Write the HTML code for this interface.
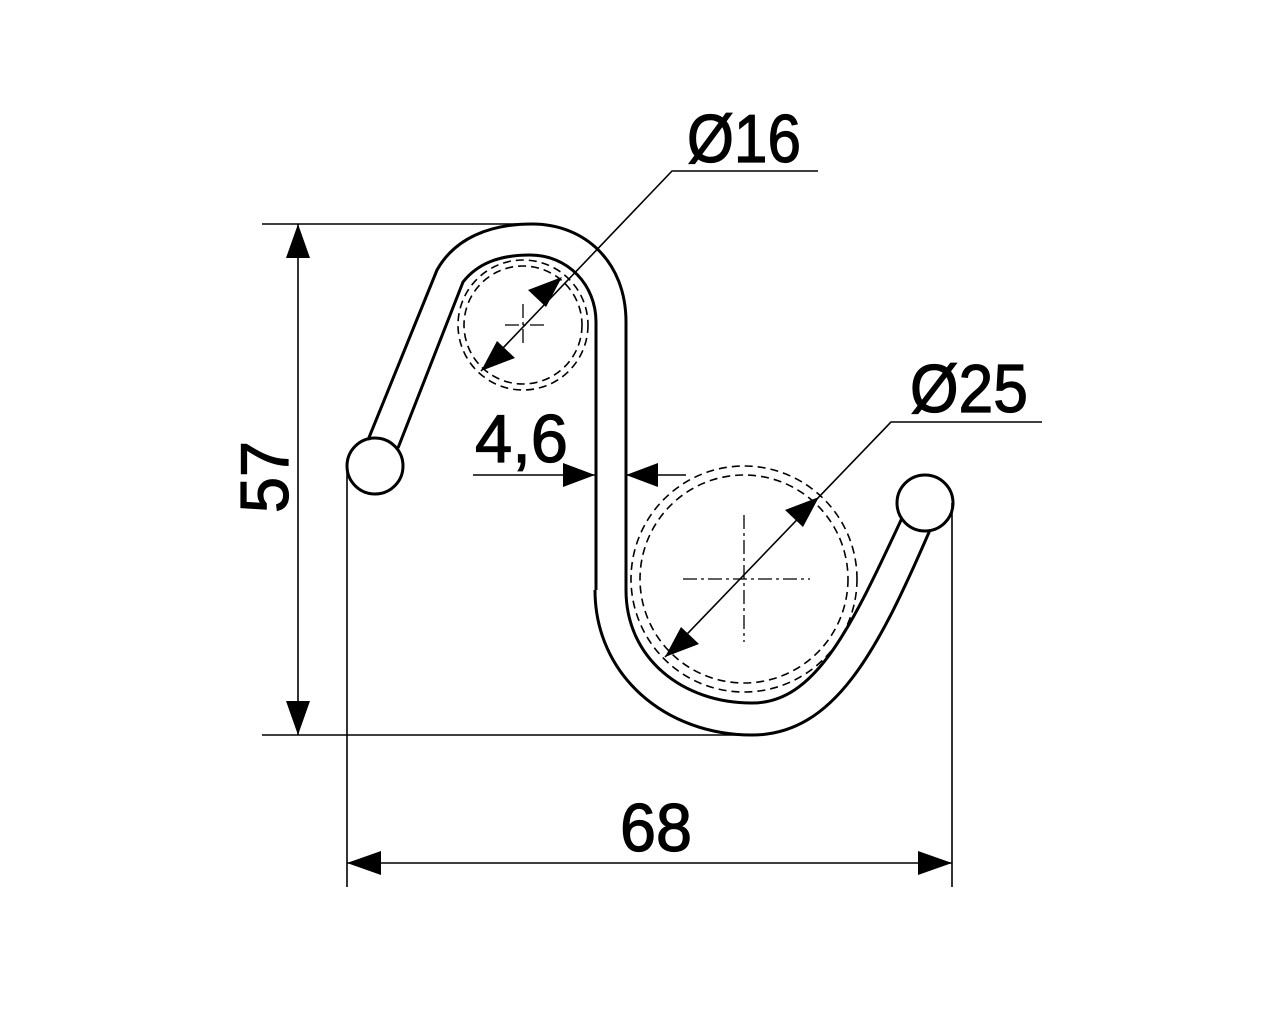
<!DOCTYPE html>
<html><head><meta charset="utf-8"><style>html,body{margin:0;padding:0;background:#fff}svg{display:block}</style></head>
<body>
<svg width="1280" height="1024" viewBox="0 0 1280 1024" xmlns="http://www.w3.org/2000/svg">
<g fill="none" stroke="#000" stroke-width="3" stroke-linejoin="round">
<path d="M368 440 L437 270 C455 238 490 224 532 224 C585 224 626 262 626 322 L626 590"/>
<path d="M398 448 L463 282 C478 263 500 255 530 255 C568 255 596 285 596 322 L596 590"/>
<path d="M595 590 C595 675 665 735 752 735 C835 735 878 650 930 530"/>
<path d="M626 590 C626 658 682 703 752 703 C815 703 850 630 902 518"/>
<circle cx="375" cy="466" r="28"/>
<circle cx="925" cy="503" r="28"/>
</g>
<g fill="none" stroke="#000" stroke-width="1.6" stroke-dasharray="8,5">
<circle cx="523" cy="325" r="65"/>
<circle cx="523" cy="325" r="59"/>
<circle cx="744" cy="579" r="113"/>
<circle cx="744" cy="579" r="104"/>
</g>
<g stroke="#000" stroke-width="1.3" stroke-dasharray="14,4,3,4">
<line x1="505" y1="325" x2="545" y2="325"/>
<line x1="523" y1="304" x2="523" y2="346"/>
<line x1="683" y1="579" x2="810" y2="579"/>
<line x1="744" y1="515" x2="744" y2="642"/>
</g>
<g stroke="#000" stroke-width="1.6" fill="none">
<line x1="262" y1="224" x2="520" y2="224"/>
<line x1="262" y1="735" x2="752" y2="735"/>
<line x1="298" y1="224" x2="298" y2="735"/>
<line x1="347" y1="466" x2="347" y2="887"/>
<line x1="952" y1="503" x2="952" y2="887"/>
<line x1="347" y1="863" x2="952" y2="863"/>
<line x1="473" y1="475" x2="595" y2="475"/>
<line x1="626" y1="475" x2="686" y2="475"/>
<polyline points="481,371 672,171 818,171"/>
<polyline points="665,657 891,422 1042,422"/>
</g>
<g fill="#000">
<polygon points="298,224 286,258 310,258"/>
<polygon points="298,735 286,701 310,701"/>
<polygon points="347,863 381,851 381,875"/>
<polygon points="952,863 918,851 918,875"/>
<polygon points="595,475 563,463 563,487"/>
<polygon points="626,475 658,463 658,487"/>
<polygon points="562,277 546,307 528,290"/>
<polygon points="481,371 497,341 515,358"/>
<polygon points="819,497 803,527 785,510"/>
<polygon points="665,657 681,627 699,644"/>
</g>
<g font-family="'Liberation Sans', sans-serif" font-size="68" fill="#000" stroke="#000" stroke-width="1.2">
<text x="687" y="162" textLength="114" lengthAdjust="spacingAndGlyphs">Ø16</text>
<text x="910" y="412" textLength="118" lengthAdjust="spacingAndGlyphs">Ø25</text>
<text x="475" y="462" textLength="93" lengthAdjust="spacingAndGlyphs">4,6</text>
<text x="620" y="851" textLength="72" lengthAdjust="spacingAndGlyphs">68</text>
<text transform="translate(288,513) rotate(-90)" textLength="72" lengthAdjust="spacingAndGlyphs">57</text>
</g>
</svg>
</body></html>
